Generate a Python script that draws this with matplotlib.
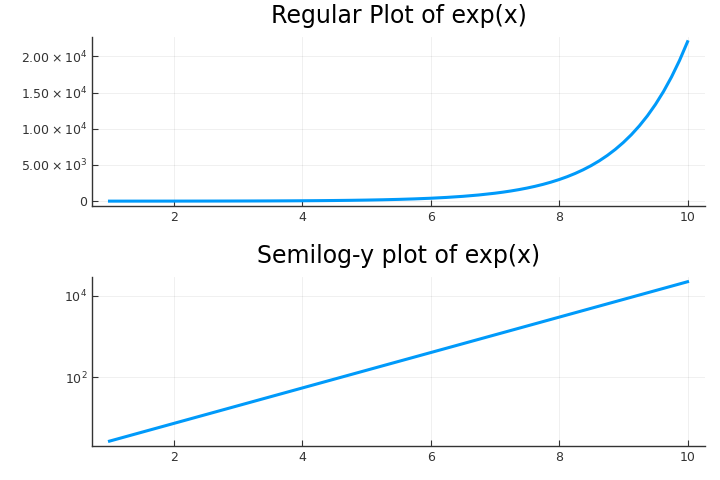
import numpy as np
import matplotlib
matplotlib.use('Agg')
import matplotlib.pyplot as plt
from matplotlib.ticker import FixedLocator, NullLocator

x = [1.0, 1.25, 1.5, 1.75, 2.0, 2.25, 2.5, 2.75, 3.0, 3.25, 3.5, 3.75,
     4.0, 4.25, 4.5, 4.75, 5.0, 5.25, 5.5, 5.75, 6.0, 6.25, 6.5, 6.75,
     7.0, 7.125, 7.25, 7.375, 7.5, 7.625, 7.75, 7.875, 8.0, 8.125, 8.25,
     8.375, 8.5, 8.625, 8.75, 8.875, 9.0, 9.125, 9.25, 9.375, 9.5, 9.625,
     9.75, 9.875, 10.0]
y = [2.718, 3.490, 4.482, 5.755, 7.389, 9.488, 12.18, 15.64, 20.09, 25.79,
     33.12, 42.52, 54.60, 70.11, 90.02, 115.6, 148.4, 190.6, 244.7, 314.2,
     403.4, 518.0, 665.1, 854.1, 1096.6, 1242.6, 1408.1, 1595.5, 1808.0,
     2048.7, 2321.6, 2630.6, 2981.0, 3377.7, 3827.6, 4337.1, 4914.8, 5569.0,
     6310.7, 7150.7, 8103.1, 9181.6, 10404.6, 11789.5, 13359.7, 15137.9,
     17154.2, 19437.4, 22026.5]

xticks = [2, 4, 6, 8, 10]
top_yticks = [0, 5000, 10000, 15000, 20000]
top_ylabels = ['0', r'$5.00\times10^{3}$', r'$1.00\times10^{4}$',
               r'$1.50\times10^{4}$', r'$2.00\times10^{4}$']
log_yticks = [1e2, 1e4]
log_ylabels = [r'$10^{2}$', r'$10^{4}$']

col = '#009AFA'

fig = plt.figure(figsize=(7.2, 4.8), dpi=100)
ax1 = fig.add_axes([0.128, 0.571, 0.851, 0.352])
ax2 = fig.add_axes([0.128, 0.071, 0.851, 0.352])

def style(ax):
    for s in ['top', 'right']:
        ax.spines[s].set_visible(False)
    for s in ['left', 'bottom']:
        ax.spines[s].set_color('#333333')
        ax.spines[s].set_linewidth(1.0)
    ax.tick_params(direction='in', length=4, width=0.8, color='#333333',
                   labelsize=9, labelcolor='#333333')
    ax.grid(True, color='black', alpha=0.07, linewidth=0.6)
    ax.set_axisbelow(True)
    ax.set_xlim(0.73, 10.27)
    ax.set_xticks(xticks)

ax1.plot(x, y, color=col, linewidth=2.2)
style(ax1)
ax1.set_ylim(-658, 22687)
ax1.yaxis.set_major_locator(FixedLocator(top_yticks))
ax1.set_yticklabels(top_ylabels)
ax1.set_title('Regular Plot of exp(x)', fontsize=17, pad=10)

ax2.plot(x, y, color=col, linewidth=2.2)
ax2.set_yscale('log')
style(ax2)
ax2.set_ylim(10**0.317, 10**4.46)
ax2.yaxis.set_major_locator(FixedLocator(log_yticks))
ax2.yaxis.set_minor_locator(NullLocator())
ax2.set_yticklabels(log_ylabels)
ax2.set_title('Semilog-y plot of exp(x)', fontsize=17, pad=10)

fig.savefig('out.png', dpi=100)
